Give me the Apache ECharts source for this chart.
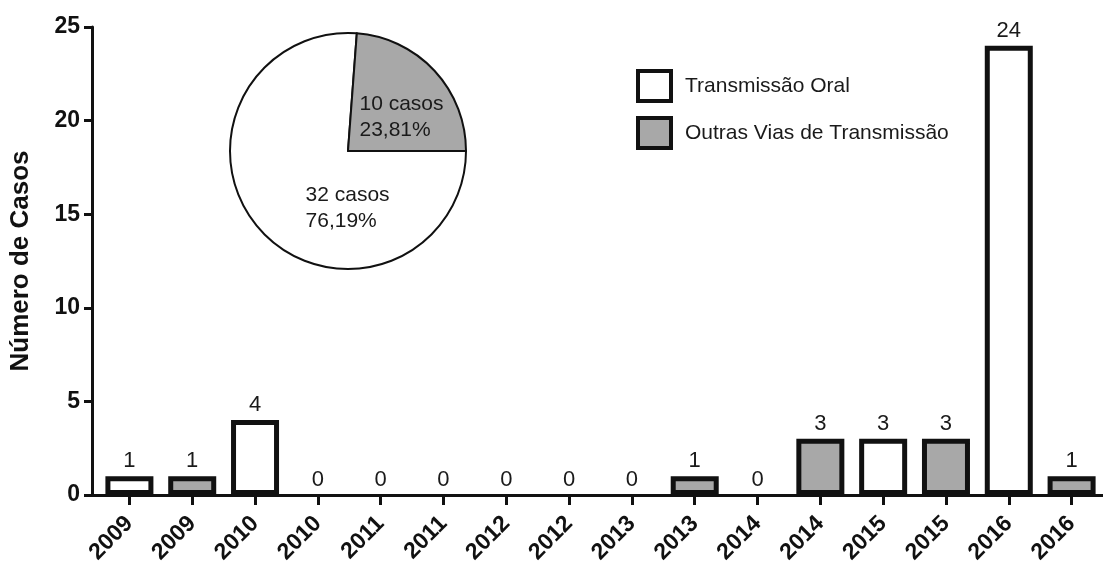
<!DOCTYPE html>
<html>
<head>
<meta charset="utf-8">
<title>Número de Casos</title>
<script src="https://cdn.jsdelivr.net/npm/echarts@6/dist/echarts.min.js"></script>
<style>
  html, body { margin: 0; padding: 0; background: #fff; }
  #chart { width: 1103px; height: 570px; }
</style>
</head>
<body>
<div id="chart"></div>
<script>
// Years on the category axis (each year appears once per transmission route)
const categories = ['2009', '2009', '2010', '2010', '2011', '2011', '2012', '2012',
                    '2013', '2013', '2014', '2014', '2015', '2015', '2016', '2016'];
// Cases per year, oral transmission (first bar of each year)
const oralCases = [1, 4, 0, 0, 0, 0, 3, 24];
// Cases per year, other transmission routes (second bar of each year)
const otherCases = [1, 0, 0, 0, 1, 3, 3, 1];
// Pie totals
const pieNames = ['Transmissão Oral', 'Outras Vias de Transmissão'];
const pieCases = [32, 10];
const yTicks = { min: 0, max: 25, interval: 5 };

const FONT = 'Liberation Sans, Arial, Helvetica, sans-serif';
const WHITE = '#ffffff';
const GRAY = '#a8a8a8';
const INK = '#111111';

// Spread each route's values onto its slots of the shared category axis
function slotted(values, offset) {
  const out = categories.map(() => null);
  values.forEach((v, i) => {
    out[i * 2 + offset] = v === 0 ? { value: 0, itemStyle: { borderWidth: 0 } } : v;
  });
  return out;
}

const barLabel = {
  show: true,
  position: 'top',
  distance: 4,
  fontFamily: FONT,
  fontSize: 22,
  color: '#1a1a1a'
};

const option = {
  animation: false,
  backgroundColor: '#fff',
  grid: [
    // axis frame
    { left: 88, right: 0, top: 27, bottom: 75 },
    // bars
    { left: 98, width: 1012, top: 27, bottom: 75 }
  ],
  xAxis: [
    {
      gridIndex: 0, type: 'value', min: 0, max: 1,
      axisLine: { show: true, onZero: false, lineStyle: { color: INK, width: 3 } },
      axisTick: { show: false }, axisLabel: { show: false }, splitLine: { show: false }
    },
    {
      gridIndex: 1, type: 'category', data: categories,
      axisLine: { show: false },
      axisTick: { show: true, alignWithLabel: true, length: 10, lineStyle: { color: INK, width: 3 } },
      axisLabel: {
        rotate: 45, margin: 25, interval: 0,
        fontFamily: FONT, fontSize: 23, fontWeight: 'bold', color: INK
      }
    }
  ],
  yAxis: [
    {
      gridIndex: 0, type: 'value', min: yTicks.min, max: yTicks.max, interval: yTicks.interval,
      name: 'Número de Casos', nameLocation: 'middle', nameGap: 58,
      nameTextStyle: { fontFamily: FONT, fontSize: 26, fontWeight: 'bold', color: INK },
      axisLine: { show: true, lineStyle: { color: INK, width: 3 } },
      axisTick: { show: true, length: 8, lineStyle: { color: INK, width: 3 } },
      axisLabel: { margin: 12, fontFamily: FONT, fontSize: 23, fontWeight: 'bold', color: INK },
      splitLine: { show: false }
    },
    {
      gridIndex: 1, type: 'value', min: yTicks.min, max: yTicks.max, interval: yTicks.interval,
      show: false
    }
  ],
  legend: {
    orient: 'vertical',
    left: 631, top: 64,
    itemWidth: 33, itemHeight: 30, itemGap: 13,
    icon: 'rect',
    textStyle: { fontFamily: FONT, fontSize: 21, color: '#1a1a1a', padding: [0, 0, 0, 9] },
    data: [
      { name: pieNames[0], itemStyle: { color: WHITE, borderColor: INK, borderWidth: 4 } },
      { name: pieNames[1], itemStyle: { color: GRAY, borderColor: INK, borderWidth: 4 } }
    ]
  },
  series: [
    {
      name: pieNames[0], type: 'bar', xAxisIndex: 1, yAxisIndex: 1,
      barWidth: 48, barGap: '-100%',
      itemStyle: { color: WHITE, borderColor: INK, borderWidth: 5 },
      label: barLabel,
      data: slotted(oralCases, 0)
    },
    {
      name: pieNames[1], type: 'bar', xAxisIndex: 1, yAxisIndex: 1,
      barWidth: 48, barGap: '-100%',
      itemStyle: { color: GRAY, borderColor: INK, borderWidth: 5 },
      label: barLabel,
      data: slotted(otherCases, 1)
    },
    {
      type: 'pie',
      center: [348, 151], radius: 118,
      startAngle: 0, clockwise: true,
      legendHoverLink: false,
      z: 5,
      itemStyle: { borderColor: INK, borderWidth: 2 },
      label: {
        show: true, position: 'inside',
        fontFamily: FONT, fontSize: 21, lineHeight: 26, color: '#1a1a1a',
        formatter: p => p.value + ' casos\n' + p.percent.toFixed(2).replace('.', ',') + '%'
      },
      labelLine: { show: false },
      labelLayout: p => p.dataIndex === 0
        ? { align: 'left', dx: 3, dy: 15 }
        : { align: 'left', dx: -34, dy: 8 },
      data: [
        { name: 'oral', value: pieCases[0], itemStyle: { color: WHITE } },
        { name: 'outras', value: pieCases[1], itemStyle: { color: GRAY } }
      ]
    }
  ]
};

const chart = echarts.init(document.getElementById('chart'), null, { renderer: 'canvas' });
chart.setOption(option);
</script>
</body>
</html>
